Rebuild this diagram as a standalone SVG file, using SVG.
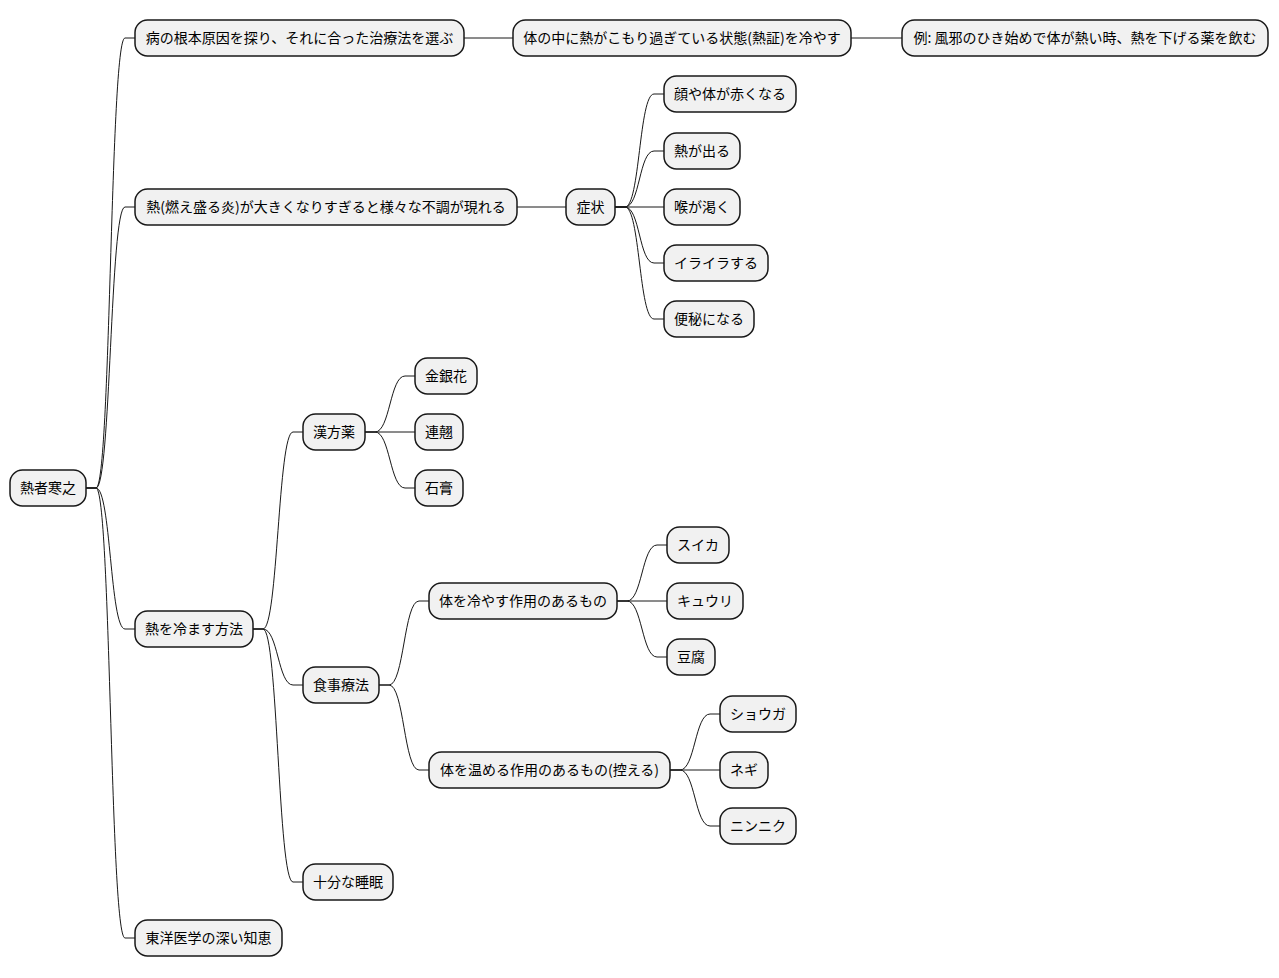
<svg xmlns="http://www.w3.org/2000/svg" width="1279" height="978" viewBox="0 0 1279 978">
<style>
.n rect{fill:#F1F1F1;stroke:#181818;stroke-width:1.5}
.n text{font-family:"Noto Sans CJK JP","Noto Sans",sans-serif;font-size:14px;fill:#000;text-anchor:middle}
#connectors path{fill:none;stroke:#181818;stroke-width:1}
</style>
<rect width="1279" height="978" fill="#FFFFFF"/>
<g id="connectors">
<path d="M86,488 L96,488 C111,488 110,38 125,38 L135,38"/>
<path d="M86,488 L96,488 C111,488 110,207 125,207 L135,207"/>
<path d="M86,488 L96,488 C111,488 110,629 125,629 L135,629"/>
<path d="M86,488 L96,488 C111,488 110,938 125,938 L135,938"/>
<path d="M464,38 H513"/>
<path d="M851,38 H902"/>
<path d="M517,207 H566"/>
<path d="M615,207 L625,207 C640,207 639,94 654,94 L664,94"/>
<path d="M615,207 L625,207 C640,207 639,151 654,151 L664,151"/>
<path d="M615,207 H664"/>
<path d="M615,207 L625,207 C640,207 639,263 654,263 L664,263"/>
<path d="M615,207 L625,207 C640,207 639,319 654,319 L664,319"/>
<path d="M253,629 L263,629 C278,629 278,432 293,432 L303,432"/>
<path d="M253,629 L263,629 C278,629 278,685 293,685 L303,685"/>
<path d="M253,629 L263,629 C278,629 278,882 293,882 L303,882"/>
<path d="M365,432 L375,432 C390,432 390,376 405,376 L415,376"/>
<path d="M365,432 H415"/>
<path d="M365,432 L375,432 C390,432 390,488 405,488 L415,488"/>
<path d="M379,685 L389,685 C404,685 404,601 419,601 L429,601"/>
<path d="M379,685 L389,685 C404,685 404,770 419,770 L429,770"/>
<path d="M617,601 L627,601 C642,601 642,545 657,545 L667,545"/>
<path d="M617,601 H667"/>
<path d="M617,601 L627,601 C642,601 642,657 657,657 L667,657"/>
<path d="M670,770 L680,770 C695,770 695,714 710,714 L720,714"/>
<path d="M670,770 H720"/>
<path d="M670,770 L680,770 C695,770 695,826 710,826 L720,826"/>
</g>
<g id="root" class="n"><rect x="10" y="470" width="76" height="36" rx="12.5"/><text x="48" y="493">熱者寒之</text></g>
<g id="n1" class="n"><rect x="135" y="20" width="329" height="36" rx="12.5"/><text x="299.5" y="43">病の根本原因を探り、それに合った治療法を選ぶ</text></g>
<g id="n1a" class="n"><rect x="513" y="20" width="338" height="36" rx="12.5"/><text x="682" y="43">体の中に熱がこもり過ぎている状態(熱証)を冷やす</text></g>
<g id="n1b" class="n"><rect x="902" y="20" width="366" height="36" rx="12.5"/><text x="1085" y="43">例: 風邪のひき始めで体が熱い時、熱を下げる薬を飲む</text></g>
<g id="n2" class="n"><rect x="135" y="189" width="382" height="36" rx="12.5"/><text x="326" y="212">熱(燃え盛る炎)が大きくなりすぎると様々な不調が現れる</text></g>
<g id="n2a" class="n"><rect x="566" y="189" width="49" height="36" rx="12.5"/><text x="590.5" y="212">症状</text></g>
<g id="s1" class="n"><rect x="664" y="76" width="132" height="36" rx="12.5"/><text x="730" y="99">顔や体が赤くなる</text></g>
<g id="s2" class="n"><rect x="664" y="133" width="76" height="36" rx="12.5"/><text x="702" y="156">熱が出る</text></g>
<g id="s3" class="n"><rect x="664" y="189" width="76" height="36" rx="12.5"/><text x="702" y="212">喉が渇く</text></g>
<g id="s4" class="n"><rect x="664" y="245" width="104" height="36" rx="12.5"/><text x="716" y="268">イライラする</text></g>
<g id="s5" class="n"><rect x="664" y="301" width="90" height="36" rx="12.5"/><text x="709" y="324">便秘になる</text></g>
<g id="n3" class="n"><rect x="135" y="611" width="118" height="36" rx="12.5"/><text x="194" y="634">熱を冷ます方法</text></g>
<g id="k" class="n"><rect x="303" y="414" width="62" height="36" rx="12.5"/><text x="334" y="437">漢方薬</text></g>
<g id="k1" class="n"><rect x="415" y="358" width="62" height="36" rx="12.5"/><text x="446" y="381">金銀花</text></g>
<g id="k2" class="n"><rect x="415" y="414" width="48" height="36" rx="12.5"/><text x="439" y="437">連翹</text></g>
<g id="k3" class="n"><rect x="415" y="470" width="48" height="36" rx="12.5"/><text x="439" y="493">石膏</text></g>
<g id="f" class="n"><rect x="303" y="667" width="76" height="36" rx="12.5"/><text x="341" y="690">食事療法</text></g>
<g id="f1" class="n"><rect x="429" y="583" width="188" height="36" rx="12.5"/><text x="523" y="606">体を冷やす作用のあるもの</text></g>
<g id="f1a" class="n"><rect x="667" y="527" width="62" height="36" rx="12.5"/><text x="698" y="550">スイカ</text></g>
<g id="f1b" class="n"><rect x="667" y="583" width="76" height="36" rx="12.5"/><text x="705" y="606">キュウリ</text></g>
<g id="f1c" class="n"><rect x="667" y="639" width="48" height="36" rx="12.5"/><text x="691" y="662">豆腐</text></g>
<g id="f2" class="n"><rect x="429" y="752" width="241" height="36" rx="12.5"/><text x="549.5" y="775">体を温める作用のあるもの(控える)</text></g>
<g id="f2a" class="n"><rect x="720" y="696" width="76" height="36" rx="12.5"/><text x="758" y="719">ショウガ</text></g>
<g id="f2b" class="n"><rect x="720" y="752" width="48" height="36" rx="12.5"/><text x="744" y="775">ネギ</text></g>
<g id="f2c" class="n"><rect x="720" y="808" width="76" height="36" rx="12.5"/><text x="758" y="831">ニンニク</text></g>
<g id="sl" class="n"><rect x="303" y="864" width="90" height="36" rx="12.5"/><text x="348" y="887">十分な睡眠</text></g>
<g id="n4" class="n"><rect x="135" y="920" width="147" height="36" rx="12.5"/><text x="208.5" y="943">東洋医学の深い知恵</text></g>
</svg>
